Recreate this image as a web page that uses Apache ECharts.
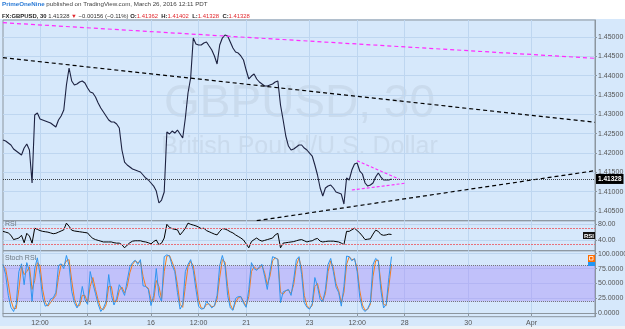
<!DOCTYPE html>
<html><head><meta charset="utf-8">
<script src="https://cdn.jsdelivr.net/npm/echarts@6/dist/echarts.min.js"></script>
<style>html,body{margin:0;padding:0;background:#fff}#c{width:625px;height:329px}</style>
</head><body><div id="c"></div>
<script>
// ---- data (2-hour slots) ----
const slotCount = 225;
const tickLabels = ['12:00','14','16','12:00','21','23','12:00','28','30','Apr'];
const tickSlots  = [14, 32, 56, 74, 92, 116, 134, 152, 176, 200];
const price = [
1.42335,1.42310,1.42258,1.42206,1.42103,1.42051,1.41999,1.41947,1.42128,1.42232,
1.42077,1.41223,1.42982,1.43034,1.42879,1.42853,1.42827,1.42801,1.42775,1.42723,
1.42672,1.42853,1.42956,1.43112,1.43758,1.44198,1.43862,1.43758,1.43784,1.43836,
1.43862,1.43810,1.43681,1.43577,1.43551,1.43448,1.43293,1.43163,1.43060,1.42956,
1.42853,1.42801,1.42801,1.42749,1.42646,1.42077,1.41766,1.41689,1.41637,1.41585,
1.41559,1.41533,1.41508,1.41430,1.41352,1.41301,1.41223,1.41145,1.41016,1.40706,
1.40783,1.40990,1.42542,1.42491,1.42568,1.42516,1.42594,1.42491,1.42387,1.42905,
1.43551,1.43939,1.44974,1.44819,1.44793,1.44793,1.44845,1.44871,1.44767,1.44664,
1.44509,1.44302,1.44793,1.44974,1.45052,1.45026,1.44871,1.44715,1.44612,1.44586,
1.44509,1.44405,1.44146,1.43914,1.43991,1.44043,1.43914,1.43836,1.43784,1.43732,
1.43732,1.43758,1.43784,1.43836,1.43862,1.43241,1.42853,1.42439,1.42180,1.42077,
1.42103,1.42154,1.42206,1.42206,1.42128,1.42077,1.41999,1.41921,1.41689,1.41430,
1.41094,1.40887,1.41094,1.41145,1.41171,1.41094,1.40990,1.40964,1.40938,1.40680,
1.41352,1.41301,1.41559,1.41714,1.41740,1.41533,1.41456,1.41223,1.41145,1.41171,
1.41223,1.41378,1.41482,1.41378,1.41301,1.41301,1.41301,1.41328];
const rsi = [
62,60,58,52,41,43,45,52,33,57,50,32,70,67,64,62,61,60,58,56,
57,60,63,66,83,75,65,63,62,61,60,59,58,50,44,41,39,37,35,35,
35,35,33,32,32,28,20,27,33,37,38,38,38,36,35,33,30,36,40,28,
32,45,80,72,69,67,66,53,61,70,83,80,78,76,73,69,70,64,61,58,
55,53,62,69,68,65,61,58,53,49,45,40,30,20,36,41,45,40,37,39,
41,43,45,53,57,20,32,33,34,35,36,38,40,41,38,35,37,38,42,44,
37,35,36,37,37,37,36,35,32,28,62,62,66,70,64,58,50,41,42,43,
55,65,62,54,52,53,55,54];
const stochK = [
82,65,30,10,3,15,70,83,48,85,70,20,75,93,65,26,12,14,24,26,
35,80,83,75,97,80,37,18,9,18,45,23,15,70,50,33,15,3,9,20,
65,30,14,25,48,40,30,55,78,85,89,82,90,46,45,40,13,30,75,30,
20,95,98,96,80,70,35,7,15,70,82,90,72,40,12,7,8,20,15,9,
13,30,80,97,80,30,9,5,25,28,28,17,10,40,85,75,72,78,82,62,
40,70,95,93,90,18,36,38,40,30,57,90,95,65,18,10,7,16,60,45,
23,20,40,82,92,70,44,35,12,45,96,95,88,92,70,27,8,3,8,18,
82,92,88,38,9,15,60,95];
const stochD = [
80,75,50,22,8,8,40,78,65,70,78,40,55,85,80,40,18,12,18,24,
30,60,82,80,88,90,55,25,12,13,30,30,18,45,60,40,22,8,6,14,
45,45,20,20,38,44,34,45,68,82,88,85,87,62,45,42,22,22,55,45,
24,70,96,97,86,74,48,15,10,45,78,87,80,52,22,9,8,15,16,11,
12,24,60,90,86,45,15,6,18,26,28,20,12,28,70,78,74,76,80,68,
48,62,88,93,91,35,32,38,39,33,48,80,93,75,30,13,8,13,45,50,
30,21,33,70,88,76,50,38,18,35,82,95,90,91,76,38,14,5,7,15,
62,88,89,50,15,13,45,82];
const priceTicks = [1.405,1.41,1.415,1.42,1.425,1.43,1.435,1.44,1.445,1.45];
const rsiTicks = [40, 80];
const rsiBands = [30, 70];
const stochTicks = [0, 25, 50, 75, 100];
const stochBands = [20, 80];
const lastPrice = 1.41328;
const trendMagentaTop = [[0, 1.45370], [224, 1.44449]];
const trendBlackTop   = [[0, 1.44465], [224, 1.42794]];
const trendBlackLow   = [[96, 1.40248], [224, 1.41542]];
const triUpper = [[134, 1.41800], [150, 1.41319]];
const triLower = [[132, 1.41042], [152, 1.41216]];

// ---- chart ----
const categories = Array.from({length: slotCount}, (_, i) => String(i));
const isTick = (idx) => tickSlots.indexOf(idx) >= 0;
const FONT = 'Liberation Sans, Arial, sans-serif';
const gridCol = '#bed6f0';
const borderCol = '#8c969f';

function xAxis(gi, showLabels) {
  return {
    type: 'category', gridIndex: gi, data: categories, boundaryGap: false,
    axisLine: {show: showLabels, lineStyle: {color: borderCol}},
    axisTick: {show: showLabels, interval: isTick, length: 3, lineStyle: {color: borderCol}},
    axisLabel: {show: showLabels, interval: isTick, margin: 3, fontSize: 7, color: '#555', fontFamily: FONT,
      formatter: (v, idx) => { const k = tickSlots.indexOf(idx); return k >= 0 ? tickLabels[k] : ''; }},
    splitLine: {show: true, interval: isTick, lineStyle: {color: gridCol, width: 1}}
  };
}
function yAxis(gi, min, max, ticks, dec) {
  return {
    type: 'value', gridIndex: gi, position: 'right', min: min, max: max, scale: true,
    axisLine: {show: true, lineStyle: {color: borderCol}},
    axisTick: {show: true, length: 2, customValues: ticks, lineStyle: {color: borderCol}},
    axisLabel: {customValues: ticks, margin: 3, fontSize: 7, color: '#555', fontFamily: FONT,
      formatter: v => v.toFixed(dec)},
    splitLine: {show: true, lineStyle: {color: gridCol, width: 1}}
  };
}
function trend(data, color, dash, width) {
  return {type: 'line', xAxisIndex: 0, yAxisIndex: 0, data: data, symbol: 'none', silent: true, smooth: false,
    lineStyle: {color: color, width: width, type: dash}, z: 4};
}

const chart = echarts.init(document.getElementById('c'), null, {renderer: 'canvas'});
chart.setOption({
  animation: false,
  backgroundColor: '#d6e8fb',
  grid: [
    {left: 3, right: 30, top: 20, height: 200.7, show: true, borderColor: borderCol, borderWidth: 1, outerBoundsMode: 'none'},
    {left: 3, right: 30, top: 220.7, height: 30, show: true, borderColor: borderCol, borderWidth: 1, outerBoundsMode: 'none'},
    {left: 3, right: 30, top: 250.7, height: 66, show: true, borderColor: borderCol, borderWidth: 1, outerBoundsMode: 'none'}
  ],
  xAxis: [xAxis(0, false), xAxis(1, false), xAxis(2, true)],
  yAxis: [yAxis(0, 1.40248, 1.45440, priceTicks, 5), yAxis(1, 12.7, 89.2, rsiTicks, 2), yAxis(2, -5.7, 105, stochTicks, 4)],
  graphic: [
    {type: 'rect', shape: {x: 0, y: 0, width: 625, height: 19}, style: {fill: '#ffffff'}, z: 0},
    {type: 'rect', shape: {x: 0, y: 326, width: 625, height: 3}, style: {fill: '#eef2f6'}, z: 0},
    {type: 'text', x: 299.5, y: 104, z: 0, silent: true, style: {text: 'GBPUSD, 30', textAlign: 'center', textVerticalAlign: 'middle',
      fontSize: 46, fontFamily: FONT, fill: 'rgba(120,135,150,0.13)'}},
    {type: 'text', x: 299.5, y: 147, z: 0, silent: true, style: {text: 'British Pound/U.S. Dollar', textAlign: 'center', textVerticalAlign: 'middle',
      fontSize: 25, fontFamily: FONT, fill: 'rgba(120,135,150,0.13)'}},
    {type: 'text', x: 2, y: 1.5, z: 10, style: {
      text: '{a|PrimeOneNine}{b| published on TradingView.com, March 26, 2016 12:11 PDT}',
      rich: {a: {fontSize: 6.2, fontWeight: 'bold', fill: '#2b7bd6', fontFamily: FONT},
             b: {fontSize: 6.2, fill: '#444', fontFamily: FONT}}}},
    {type: 'text', x: 2, y: 10.5, z: 10, style: {
      text: '{c|FX:GBPUSD, 30}{d| 1.41328 }{r|▼}{d| \u22120.00156 (\u22120.11%) }{c|O:}{r|1.41362} {c|H:}{r|1.41402} {c|L:}{r|1.41328} {c|C:}{r|1.41328}',
      rich: {c: {fontSize: 5.9, fontWeight: 'bold', fill: '#222', fontFamily: FONT},
             d: {fontSize: 5.9, fill: '#333', fontFamily: FONT},
             r: {fontSize: 5.9, fill: '#e0282e', fontFamily: FONT}}}},
    {type: 'text', x: 5, y: 221, z: 10, style: {text: 'RSI', fontSize: 7, fill: '#6d7780', fontFamily: FONT}},
    {type: 'text', x: 5, y: 255, z: 10, style: {text: 'Stoch RSI', fontSize: 7, fill: '#6d7780', fontFamily: FONT}},
    {type: 'text', x: 583, y: 232, z: 10, style: {text: 'RSI', fontSize: 6, fontWeight: 'bold', fill: '#fff', backgroundColor: '#111',
      padding: [1, 1, 0, 1], fontFamily: FONT}},
    {type: 'rect', shape: {x: 588, y: 255, width: 7, height: 7}, style: {fill: '#ff6d00'}, z: 10},
    {type: 'rect', shape: {x: 589.5, y: 256.5, width: 3.5, height: 3.5}, style: {fill: 'none', stroke: '#fff', lineWidth: 0.8}, z: 11},
    {type: 'rect', shape: {x: 588, y: 262, width: 7, height: 4}, style: {fill: '#2196f3'}, z: 10}
  ],
  series: [
    {type: 'line', xAxisIndex: 0, yAxisIndex: 0, data: price, symbol: 'none', smooth: false, z: 3,
      lineStyle: {color: '#1c2140', width: 1.1},
      markLine: {symbol: 'none', silent: true, precision: 5, lineStyle: {color: '#3a3f44', type: [1, 1], width: 1},
        label: {position: 'end', distance: 1, formatter: () => lastPrice.toFixed(5), backgroundColor: '#000', color: '#fff',
          fontSize: 6.5, fontWeight: 'bold', padding: [2, 2, 1, 2], fontFamily: FONT},
        data: [{yAxis: lastPrice}]}},
    trend(trendMagentaTop, '#ff2bff', [4, 3], 1.2),
    trend(trendBlackTop, '#000000', [4, 3], 1.2),
    trend(trendBlackLow, '#000000', [4, 3], 1.2),
    trend(triUpper, '#ff2bff', [3, 2], 1.1),
    trend(triLower, '#ff2bff', [3, 2], 1.1),
    {type: 'line', xAxisIndex: 1, yAxisIndex: 1, data: rsi, symbol: 'none', smooth: false, z: 3,
      lineStyle: {color: '#000', width: 1},
      markLine: {symbol: 'none', silent: true, label: {show: false}, lineStyle: {color: '#e8707a', type: [2, 1], width: 1},
        data: rsiBands.map(v => ({yAxis: v}))}},
    {type: 'line', xAxisIndex: 2, yAxisIndex: 2, data: stochD, symbol: 'none', smooth: false, z: 3,
      lineStyle: {color: '#f57c1f', width: 1},
      markArea: {silent: true, itemStyle: {color: 'rgba(160,130,250,0.38)'},
        data: [[{yAxis: stochBands[0]}, {yAxis: stochBands[1]}]]},
      markLine: {symbol: 'none', silent: true, label: {show: false}, lineStyle: {color: '#77787c', type: [1, 1], width: 1},
        data: stochBands.map(v => ({yAxis: v}))}},
    {type: 'line', xAxisIndex: 2, yAxisIndex: 2, data: stochK, symbol: 'none', smooth: false, z: 4,
      lineStyle: {color: '#2f95f0', width: 1}}
  ]
});
</script></body></html>
